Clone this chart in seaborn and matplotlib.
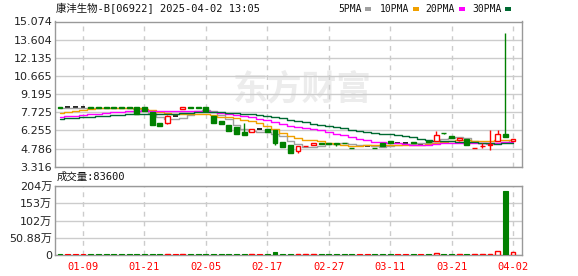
import numpy as np
import pandas as pd
import matplotlib
matplotlib.use("Agg")
import matplotlib.pyplot as plt
from matplotlib.patches import Rectangle
import seaborn as sns

# ---------------- data ----------------
dates = ["01-06", "01-07", "01-08", "01-09", "01-10", "01-13", "01-14", "01-15", "01-16", "01-17",
         "01-20", "01-21", "01-22", "01-23", "01-24", "01-27", "01-28", "02-03", "02-04", "02-05",
         "02-06", "02-07", "02-10", "02-11", "02-12", "02-13", "02-14", "02-17", "02-18", "02-19",
         "02-20", "02-21", "02-24", "02-25", "02-26", "02-27", "02-28", "03-03", "03-04", "03-05",
         "03-06", "03-07", "03-10", "03-11", "03-12", "03-13", "03-14", "03-17", "03-18", "03-19",
         "03-20", "03-21", "03-24", "03-25", "03-26", "03-27", "03-28", "03-31", "04-01", "04-02"]

opens = [8.12, 8.11, 8.11, 8.11, 8.12, 8.12, 8.12, 8.12, 8.12, 8.12,
         8.13, 8.13, 7.73, 6.83, 6.83, 7.40, 7.99, 8.12, 8.12, 8.13,
         7.43, 6.99, 6.67, 6.50, 6.12, 6.16, 6.35, 6.34, 6.26, 5.28,
         5.06, 4.57, 4.99, 5.09, 5.21, 5.22, 5.20, 5.26, 4.86, 5.00,
         5.00, 4.86, 5.20, 5.39, 5.25, 5.25, 5.33, 5.17, 5.38, 5.42,
         6.05, 5.77, 5.50, 5.58, 4.84, 4.99, 5.10, 5.36, 6.00, 5.38]
highs = [8.12, 8.11, 8.11, 8.11, 8.12, 8.12, 8.12, 8.12, 8.12, 8.12,
         8.13, 8.13, 7.73, 6.83, 7.48, 7.40, 8.13, 8.12, 8.12, 8.18,
         7.43, 6.99, 6.67, 6.50, 6.83, 6.40, 6.35, 6.34, 6.26, 5.28,
         5.06, 4.98, 5.01, 5.22, 5.21, 5.22, 5.20, 5.26, 4.86, 5.00,
         5.00, 4.86, 5.20, 5.39, 5.25, 5.25, 5.33, 5.17, 5.38, 6.17,
         6.05, 5.77, 5.60, 5.58, 4.86, 5.20, 6.26, 6.26, 14.17, 5.57]
lows = [8.10, 8.11, 8.11, 8.11, 8.10, 8.10, 8.10, 8.10, 8.10, 8.10,
        7.56, 7.81, 6.67, 6.58, 6.75, 7.40, 7.99, 8.10, 8.10, 7.80,
        6.85, 6.77, 6.23, 5.96, 5.90, 6.16, 6.35, 6.10, 5.06, 4.91,
        4.40, 4.46, 4.99, 5.09, 5.15, 5.18, 5.00, 5.24, 4.84, 5.00,
        5.00, 4.84, 5.00, 5.25, 5.25, 5.25, 5.20, 5.17, 5.30, 5.42,
        5.97, 5.60, 5.42, 5.09, 4.84, 4.85, 4.69, 5.36, 5.70, 5.36]
closes = [8.10, 8.11, 8.11, 8.11, 8.10, 8.10, 8.10, 8.10, 8.10, 8.10,
          7.56, 7.81, 6.67, 6.58, 7.40, 7.40, 8.13, 8.10, 8.10, 7.80,
          6.85, 6.77, 6.23, 5.96, 5.90, 6.35, 6.35, 6.10, 5.22, 4.91,
          4.40, 4.98, 5.01, 5.22, 5.19, 5.18, 5.18, 5.24, 4.84, 5.00,
          5.00, 4.84, 5.00, 5.25, 5.25, 5.25, 5.20, 5.17, 5.30, 5.91,
          6.03, 5.60, 5.60, 5.09, 4.86, 5.01, 5.12, 5.99, 5.71, 5.55]
# volume in 万 shares
volumes = [2.5, 2.5, 2.5, 2.5, 2.5, 2.5, 2.5, 2.5, 2.5, 2.5,
           2.5, 2.5, 2.5, 2.5, 2.5, 2.5, 2.5, 2.5, 2.5, 2.5,
           2.5, 2.5, 2.5, 2.5, 2.5, 2.5, 2.5, 2.5, 9.0, 2.5,
           2.5, 2.5, 2.5, 2.5, 2.5, 2.5, 2.5, 2.5, 2.5, 2.5,
           2.5, 2.5, 2.5, 2.5, 2.5, 2.5, 2.5, 2.5, 2.5, 6.0,
           2.5, 2.5, 2.5, 2.5, 2.5, 2.5, 2.5, 11.0, 188.0, 8.36]
# closes of the 29 sessions before the window (needed for the moving averages)
prior_closes = [6.80, 6.85, 6.90, 6.88, 6.86, 6.84, 6.90, 6.88, 6.90, 6.89,
                7.00, 7.02, 7.05, 7.08, 7.10, 7.06, 7.04, 7.08, 7.12, 7.15,
                7.10, 7.12, 7.15, 7.18, 7.20, 8.11, 8.11, 8.11, 8.11]

ma_windows = [5, 10, 20, 30]
ma_labels = ["5PMA", "10PMA", "20PMA", "30PMA"]
price_tick_labels = ["3.316", "4.786", "6.255", "7.725", "9.195", "10.665", "12.135", "13.604", "15.074"]
vol_ticks = [0, 50.88, 102, 153, 204]
vol_tick_labels = ["0", "50.88万", "102万", "153万", "204万"]
tick_dates = ["01-09", "01-21", "02-05", "02-17", "02-27", "03-11", "03-21", "04-02"]
title = "康沣生物-B[06922] 2025-04-02 13:05"
vol_title = "成交量:83600"
watermark = "东方财富"

# ---------------- style ----------------
sns.set_theme(style="white")
plt.rcParams["font.family"] = ["DejaVu Sans", "Noto Sans CJK SC"]

RED = "#ff0000"
GREEN = "#008000"
MA_COLORS = ["#a0a0a0", "#f0a000", "#ff00ff", "#006a32"]
GRID = "#cccccc"
FRAME = "#999999"
MONO = ["DejaVu Sans Mono", "Noto Sans CJK SC"]
SANS = ["DejaVu Sans", "Noto Sans CJK SC"]

W, H = 578, 276
fig = plt.figure(figsize=(W / 100, H / 100), dpi=100)

def fx(px):
    return px / W

def fy(py):
    return 1 - py / H

ax = fig.add_axes([fx(55), fy(166.7), fx(522) - fx(55), fy(21.5) - fy(166.7)])
axv = fig.add_axes([fx(55), fy(255), fx(522) - fx(55), fy(186) - fy(255)])

df = pd.DataFrame({"date": dates, "open": opens, "high": highs, "low": lows,
                   "close": closes, "volume": volumes})
df["idx"] = np.arange(len(df))
all_close = pd.Series(prior_closes + closes)
n_prior = len(prior_closes)
for w, lab in zip(ma_windows, ma_labels):
    df[lab] = all_close.rolling(w).mean().iloc[n_prior:].to_numpy()

x = df["idx"].to_numpy()
o = df["open"].to_numpy()
c = df["close"].to_numpy()
hi = df["high"].to_numpy()
lo = df["low"].to_numpy()
up = c > o
down = c < o
flat = c == o
cols = np.where(up, RED, np.where(down, GREEN, "#000000"))

# moving averages
for lab, col in zip(ma_labels, MA_COLORS):
    sns.lineplot(data=df, x="idx", y=lab, ax=ax, color=col, lw=1.0,
                 drawstyle="steps-mid", estimator=None, zorder=2)

# candles
bw = 0.64
nf = ~flat
ax.vlines(x[nf], lo[nf], hi[nf], colors=cols[nf], lw=1.0, zorder=3)
ax.bar(x[up], (c - o)[up], bottom=o[up], width=bw, facecolor="white",
       edgecolor=RED, lw=1.0, zorder=4)
ax.bar(x[down], (c - o)[down], bottom=o[down], width=bw, facecolor=GREEN,
       edgecolor=GREEN, lw=1.0, zorder=4)
ax.hlines(o[flat], x[flat] - bw / 2, x[flat] + bw / 2, colors="#000000", lw=1.2, zorder=1.5)

price_ticks = [float(t) for t in price_tick_labels]
ax.set_ylim(price_ticks[0], price_ticks[-1])
ax.set_yticks(price_ticks)
ax.set_yticklabels(price_tick_labels)
xlim = (-0.65, 60.17)
ax.set_xlim(*xlim)
tick_pos = [dates.index(d) for d in tick_dates]
ax.set_xticks(tick_pos)
ax.set_xticklabels([])
ax.set_xlabel("")
ax.set_ylabel("")
ax.grid(axis="y", color=GRID, lw=1.0, ls="-")
ax.grid(axis="x", color=GRID, lw=1.0, ls=(0, (3.5, 3.5)))
ax.set_axisbelow(True)
ax.tick_params(axis="both", length=0, pad=2, labelsize=8, labelcolor="#222222")
for s in ax.spines.values():
    s.set_color(FRAME)
    s.set_linewidth(1.0)

ax.text(fx(302), fy(89), watermark, transform=fig.transFigure, ha="center", va="center",
        fontsize=25, fontweight="bold", color="#ececec", family=["Noto Sans CJK SC"],
        style="italic", zorder=0.5)

# volume
vcols = np.where(c >= o, RED, GREEN)
vv = df["volume"].to_numpy()
vup = c > o
axv.bar(x[~vup], vv[~vup], width=bw, color=vcols[~vup], edgecolor=vcols[~vup], lw=0.8, zorder=3)
axv.bar(x[vup], vv[vup], width=bw, facecolor="white", edgecolor=RED, lw=1.0, zorder=3)
axv.set_xlim(*xlim)
axv.set_ylim(0, 204)
axv.set_yticks(vol_ticks)
axv.set_yticklabels(vol_tick_labels, family=SANS)
axv.set_xticks(tick_pos)
axv.set_xticklabels(tick_dates, color=RED, family=MONO, fontsize=7.5)
axv.set_xlabel("")
axv.set_ylabel("")
axv.grid(axis="y", color=GRID, lw=1.0, ls="-")
axv.grid(axis="x", color=GRID, lw=1.0, ls=(0, (3.5, 3.5)))
axv.set_axisbelow(True)
axv.tick_params(axis="y", length=0, pad=2, labelsize=8, labelcolor="#222222")
axv.tick_params(axis="x", length=0, pad=5)
for s in axv.spines.values():
    s.set_color(FRAME)
    s.set_linewidth(1.0)

# texts
fig.text(fx(56), fy(8), title, ha="left", va="center", fontsize=7.5, family=MONO, color="#111111")
fig.text(fx(57), fy(177), vol_title, ha="left", va="center", fontsize=7.5, family=MONO, color="#111111")

leg_text_x = [338, 380, 425, 472]
leg_mark_x = [365, 413, 459, 505]
for lab, col, tx, mx in zip(ma_labels, MA_COLORS, leg_text_x, leg_mark_x):
    fig.text(fx(tx), fy(8.5), lab, ha="left", va="center", fontsize=7, family=MONO, color="#111111")
    fig.patches.append(Rectangle((fx(mx), fy(10.5)), fx(6), 4 / H, transform=fig.transFigure,
                                 facecolor=col, edgecolor="none"))

fig.savefig("out.png", dpi=100)
